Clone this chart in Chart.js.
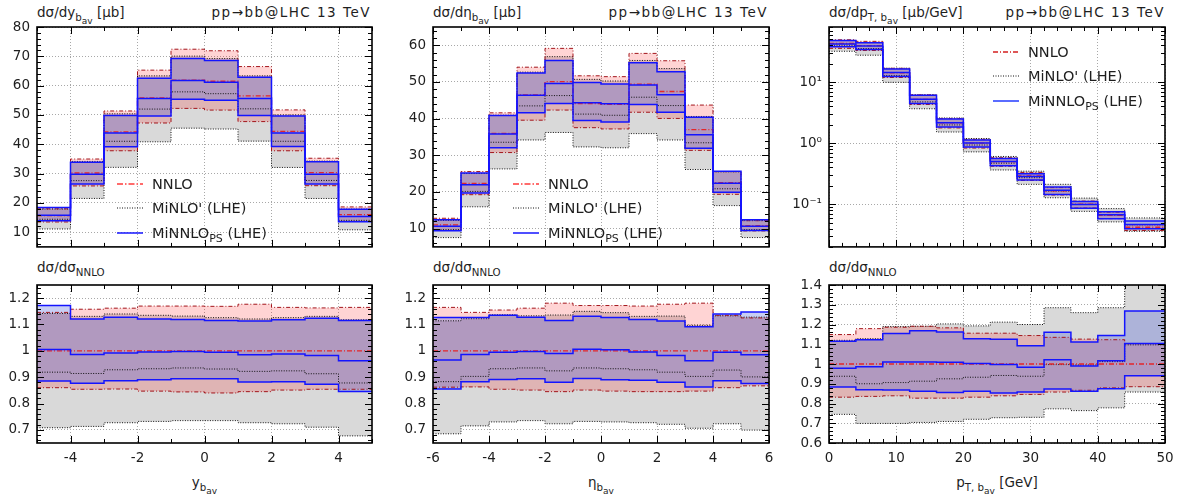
<!DOCTYPE html>
<html>
<head>
<meta charset="utf-8">
<script src="https://cdn.jsdelivr.net/npm/chart.js@4.4.1/dist/chart.umd.min.js"></script>
<style>
  body { margin: 0; width: 1186px; height: 500px; background: #fff; position: relative; overflow: hidden;
         font-family: "DejaVu Sans", sans-serif; color: #1e1e1e; }
  canvas { position: absolute; }
  .t { position: absolute; font-size: 13.5px; line-height: 15px; white-space: nowrap; }
  .t sub, .leg sub { font-size: 76%; vertical-align: -0.35em; line-height: 0; }
  .t sub sub { font-size: 88%; vertical-align: -0.3em; }
  .c { text-align: center; }
  .proc { letter-spacing: 1.5px; }
  .leg { position: absolute; font-size: 14.5px; white-space: nowrap; }
  .leg div { height: 24.5px; display: flex; align-items: center; }
  .leg svg { margin-right: 9px; flex: none; }
</style>
</head>
<body>

<div class="t" style="left:37px;top:5px">dσ/dy<sub>b<sub>av</sub></sub> [μb]</div>
<div class="t proc" style="right:815px;top:5px">pp→bb@LHC 13 TeV</div>
<div class="t" style="left:433px;top:5px">dσ/dη<sub>b<sub>av</sub></sub> [μb]</div>
<div class="t proc" style="right:418px;top:5px">pp→bb@LHC 13 TeV</div>
<div class="t" style="left:829px;top:5px">dσ/dp<sub>T, b<sub>av</sub></sub> [μb/GeV]</div>
<div class="t proc" style="right:21px;top:5px">pp→bb@LHC 13 TeV</div>

<div class="t" style="left:37px;top:260px">dσ/dσ<sub>NNLO</sub></div>
<div class="t" style="left:433px;top:260px">dσ/dσ<sub>NNLO</sub></div>
<div class="t" style="left:829px;top:260px">dσ/dσ<sub>NNLO</sub></div>

<div class="t c" style="left:37px;width:335px;top:475px">y<sub>b<sub>av</sub></sub></div>
<div class="t c" style="left:433px;width:336px;top:475px">η<sub>b<sub>av</sub></sub></div>
<div class="t c" style="left:829px;width:336px;top:475px">p<sub>T, b<sub>av</sub></sub> [GeV]</div>

<script>
// ---- rapidity y_bav (bins of 1, -5..5) ----
const yEdges = [-5, -4, -3, -2, -1, 0, 1, 2, 3, 4, 5];
const yNnlo = [15.7, 30.2, 44.2, 55.8, 61.9, 61.5, 56.5, 44.4, 30.3, 16.0];
// ratios to NNLO central
const yNnloLo = [0.860, 0.854, 0.855, 0.847, 0.844, 0.840, 0.845, 0.851, 0.854, 0.854];
const yNnloHi = [1.146, 1.158, 1.162, 1.170, 1.170, 1.169, 1.177, 1.165, 1.163, 1.165];
const yMinlo = [0.919, 0.914, 0.928, 0.932, 0.935, 0.931, 0.922, 0.924, 0.913, 0.878];
const yMinloLo = [0.708, 0.713, 0.727, 0.732, 0.735, 0.735, 0.727, 0.723, 0.710, 0.677];
const yMinloHi = [1.142, 1.131, 1.140, 1.135, 1.132, 1.126, 1.121, 1.126, 1.131, 1.118];
const yMinnlo = [1.005, 0.986, 0.992, 0.996, 0.997, 0.995, 0.985, 0.988, 0.982, 0.962];
const yMinnloLo = [0.885, 0.877, 0.886, 0.890, 0.894, 0.894, 0.882, 0.883, 0.873, 0.846];
const yMinnloHi = [1.172, 1.121, 1.128, 1.121, 1.119, 1.115, 1.113, 1.118, 1.124, 1.115];

// ---- pseudorapidity eta_bav (bins of 1, -6..6) ----
const etaEdges = [-6, -5, -4, -3, -2, -1, 0, 1, 2, 3, 4, 5, 6];
const etaNnlo = [11.0, 22.3, 36.0, 46.5, 50.1, 44.1, 43.9, 49.4, 47.4, 37.0, 22.5, 10.8];
const etaNnloLo = [0.862, 0.863, 0.854, 0.851, 0.845, 0.851, 0.847, 0.845, 0.845, 0.847, 0.860, 0.867];
const etaNnloHi = [1.165, 1.146, 1.155, 1.162, 1.181, 1.172, 1.172, 1.170, 1.177, 1.181, 1.135, 1.125];
const etaMinlo = [0.883, 0.903, 0.932, 0.935, 0.924, 0.935, 0.932, 0.928, 0.919, 0.903, 0.927, 0.901];
const etaMinloLo = [0.685, 0.715, 0.730, 0.735, 0.723, 0.732, 0.730, 0.727, 0.721, 0.706, 0.723, 0.699];
const etaMinloHi = [1.114, 1.122, 1.137, 1.133, 1.136, 1.150, 1.145, 1.131, 1.132, 1.097, 1.133, 1.128];
const etaMinnlo = [0.965, 0.986, 0.995, 0.997, 0.990, 1.006, 1.004, 0.996, 0.982, 0.962, 0.995, 0.985];
const etaMinnloLo = [0.855, 0.883, 0.891, 0.894, 0.881, 0.895, 0.890, 0.888, 0.881, 0.863, 0.886, 0.876];
const etaMinnloHi = [1.127, 1.127, 1.135, 1.128, 1.115, 1.131, 1.127, 1.119, 1.113, 1.091, 1.140, 1.147];

// ---- transverse momentum pT,bav [GeV] ----
const ptEdges = [0, 4, 8, 12, 16, 20, 24, 28, 32, 36, 40, 44, 50];
const ptNnlo = [43, 39.5, 14.2, 5.2, 2.15, 1.0, 0.5, 0.29, 0.165, 0.1, 0.066, 0.042];
const ptNnloLo = [0.832, 0.836, 0.839, 0.827, 0.827, 0.832, 0.839, 0.846, 0.858, 0.867, 0.879, 0.885];
const ptNnloHi = [1.149, 1.179, 1.186, 1.191, 1.183, 1.156, 1.156, 1.144, 1.135, 1.126, 1.123, 1.103];
const ptMinlo = [0.938, 0.900, 0.906, 0.913, 0.925, 0.933, 0.942, 0.938, 0.997, 0.995, 1.012, 1.097];
const ptMinloLo = [0.745, 0.699, 0.699, 0.704, 0.709, 0.720, 0.728, 0.730, 0.773, 0.764, 0.778, 0.858];
const ptMinloHi = [1.120, 1.128, 1.190, 1.191, 1.203, 1.193, 1.212, 1.200, 1.285, 1.260, 1.285, 1.420];
const ptMinnlo = [0.979, 0.986, 1.010, 1.010, 1.009, 1.003, 0.998, 0.983, 1.022, 0.990, 1.017, 1.104];
const ptMinnloLo = [0.884, 0.870, 0.868, 0.862, 0.856, 0.862, 0.853, 0.858, 0.874, 0.862, 0.875, 0.940];
const ptMinnloHi = [1.115, 1.123, 1.154, 1.168, 1.162, 1.128, 1.125, 1.092, 1.161, 1.111, 1.144, 1.268];

// tick labels
const yTicks = [-4, -2, 0, 2, 4];
const etaTicks = [-6, -4, -2, 0, 2, 4, 6];
const ptTicks = [0, 10, 20, 30, 40, 50];
const yTopTicks = [10, 20, 30, 40, 50, 60, 70, 80];
const etaTopTicks = [10, 20, 30, 40, 50, 60];
const ptTopTicks = [0.1, 1, 10];
const ptTopLabels = ['10⁻¹', '10⁰', '10¹'];
const ratioTicks = [0.7, 0.8, 0.9, 1, 1.1, 1.2];
const ptRatioTicks = [0.6, 0.7, 0.8, 0.9, 1, 1.1, 1.2, 1.3, 1.4];

const FONT = '"DejaVu Sans", sans-serif';
const RED = { borderColor: '#e3262a', borderWidth: 1.3, borderDash: [5, 2, 1, 2] };
const RED_EDGE = { borderColor: '#a3151b', borderWidth: 1, borderDash: [4, 2, 1, 2] };
const BLACK = { borderColor: '#111', borderWidth: 1, borderDash: [1, 1.5] };
const BLUE = { borderColor: '#1414ff', borderWidth: 1.5 };
const GRAY_FILL = '#d9d9d9';
const RED_FILL = 'rgba(255,0,0,0.17)';
const BLUE_FILL = 'rgba(74,92,219,0.3)';

// histogram steps: each value holds from its left edge to the next edge
function steps(edges, vals) {
  const pts = vals.map((v, i) => ({ x: edges[i], y: v }));
  pts.push({ x: edges[edges.length - 1], y: vals[vals.length - 1] });
  return pts;
}

function histSets(edges, base, s) {
  const pts = r => steps(edges, r.map((v, i) => v * base[i]));
  const ones = base.map(() => 1);
  const line = (data, style, fill) => Object.assign({ data: pts(data), stepped: 'before', fill: false,
    pointRadius: 0, borderCapStyle: 'butt' }, style, fill ? { fill: '-1', backgroundColor: fill } : {});
  // first dataset is drawn on top; fills go bottom-up from the last one
  return [
    line(s.pC, BLUE), line(s.pLo, BLUE), line(s.pHi, BLUE, BLUE_FILL),
    line(ones, RED), line(s.nLo, RED_EDGE), line(s.nHi, RED_EDGE, RED_FILL),
    line(s.mC, BLACK), line(s.mLo, BLACK), line(s.mHi, BLACK, GRAY_FILL)
  ];
}

// frame with inward major / minor ticks on all four sides
const framePlugin = {
  id: 'frame',
  afterDraw(chart, args, o) {
    const { ctx, chartArea: a, scales: { x, y } } = chart;
    ctx.save();
    ctx.strokeStyle = '#000';
    ctx.lineWidth = 1;
    ctx.beginPath();
    const vTick = (v, len) => {
      const px = Math.round(x.getPixelForValue(v)) + 0.5;
      ctx.moveTo(px, a.bottom); ctx.lineTo(px, a.bottom - len);
      ctx.moveTo(px, a.top); ctx.lineTo(px, a.top + len);
    };
    const hTick = (v, len) => {
      const py = Math.round(y.getPixelForValue(v)) + 0.5;
      ctx.moveTo(a.left, py); ctx.lineTo(a.left + len, py);
      ctx.moveTo(a.right, py); ctx.lineTo(a.right - len, py);
    };
    for (let k = Math.ceil(x.min / o.xMinor - 1e-9); k * o.xMinor <= x.max + 1e-9; k++) vTick(k * o.xMinor, 4);
    x.ticks.forEach(t => vTick(t.value, 7));
    if (o.yLog) {
      for (let e = Math.floor(Math.log10(y.min)); e <= Math.ceil(Math.log10(y.max)); e++) {
        for (let m = 2; m <= 9; m++) {
          const v = m * Math.pow(10, e);
          if (v >= y.min && v <= y.max) hTick(v, 4);
        }
      }
    } else {
      for (let k = Math.ceil(y.min / o.yMinor - 1e-9); k * o.yMinor <= y.max + 1e-9; k++) hTick(k * o.yMinor, 4);
    }
    y.ticks.forEach(t => hTick(t.value, 7));
    ctx.stroke();
    ctx.lineWidth = 1.6;
    ctx.strokeRect(a.left, a.top, a.right - a.left, a.bottom - a.top);
    ctx.restore();
  }
};

function histChart(cfg) {
  const [bl, bt, bw, bh] = cfg.box;
  const [pl, pt, pr, pb] = cfg.plot;
  const cv = document.createElement('canvas');
  cv.width = bw; cv.height = bh;
  cv.style.left = bl + 'px'; cv.style.top = bt + 'px';
  document.body.appendChild(cv);
  const tickFont = { family: FONT, size: 13.5 };
  return new Chart(cv, {
    type: 'line',
    data: { datasets: cfg.datasets },
    options: {
      responsive: false, animation: false, devicePixelRatio: 1,
      layout: { padding: { left: 0, top: pt - bt, right: bl + bw - pr, bottom: 0 } },
      plugins: {
        legend: { display: false }, tooltip: { enabled: false },
        filler: { drawTime: 'beforeDatasetsDraw' },
        frame: cfg.frame
      },
      scales: {
        x: {
          type: 'linear', min: cfg.xMin, max: cfg.xMax,
          afterBuildTicks: s => { s.ticks = cfg.xTicks.map(v => ({ value: v })); },
          afterFit: s => { s.height = bt + bh - pb; },
          ticks: { display: cfg.xLabels, padding: 7, color: '#1e1e1e', font: tickFont, maxRotation: 0, autoSkip: false,
                   callback: v => String(v) },
          grid: { color: '#a8a8a8', lineWidth: 1, drawTicks: false },
          border: { display: false, dash: [1, 2] }
        },
        y: {
          type: cfg.yLog ? 'logarithmic' : 'linear', min: cfg.yMin, max: cfg.yMax,
          afterBuildTicks: s => { s.ticks = cfg.yTicks.map(v => ({ value: v })); },
          afterFit: s => { s.width = pl - bl; },
          ticks: { padding: 7, color: '#1e1e1e', font: tickFont, autoSkip: false,
                   callback: cfg.yLabels ? (v => cfg.yLabels[cfg.yTicks.indexOf(v)]) : (v => String(v)) },
          grid: { color: '#a8a8a8', lineWidth: 1, drawTicks: false },
          border: { display: false, dash: [1, 2] }
        }
      }
    },
    plugins: [framePlugin]
  });
}

const cols = [
  { box: [0, 395], plot: [37, 372], edges: yEdges, nnlo: yNnlo, xMin: -5, xMax: 5, xTicks: yTicks, xMinor: 1,
    top: { yMin: 5, yMax: 80, yTicks: yTopTicks, yMinor: 2 },
    ratio: { yMin: 0.65, yMax: 1.25, yTicks: ratioTicks },
    s: { nLo: yNnloLo, nHi: yNnloHi, mC: yMinlo, mLo: yMinloLo, mHi: yMinloHi, pC: yMinnlo, pLo: yMinnloLo, pHi: yMinnloHi } },
  { box: [395, 395], plot: [433, 769], edges: etaEdges, nnlo: etaNnlo, xMin: -6, xMax: 6, xTicks: etaTicks, xMinor: 1,
    top: { yMin: 5, yMax: 65, yTicks: etaTopTicks, yMinor: 2 },
    ratio: { yMin: 0.65, yMax: 1.25, yTicks: ratioTicks },
    s: { nLo: etaNnloLo, nHi: etaNnloHi, mC: etaMinlo, mLo: etaMinloLo, mHi: etaMinloHi, pC: etaMinnlo, pLo: etaMinnloLo, pHi: etaMinnloHi } },
  { box: [790, 396], plot: [829, 1165], edges: ptEdges, nnlo: ptNnlo, xMin: 0, xMax: 50, xTicks: ptTicks, xMinor: 2,
    top: { yMin: 0.02, yMax: 80, yTicks: ptTopTicks, yLabels: ptTopLabels, yLog: true },
    ratio: { yMin: 0.6, yMax: 1.4, yTicks: ptRatioTicks },
    s: { nLo: ptNnloLo, nHi: ptNnloHi, mC: ptMinlo, mLo: ptMinloLo, mHi: ptMinloHi, pC: ptMinnlo, pLo: ptMinnloLo, pHi: ptMinnloHi } }
];

cols.forEach(c => {
  histChart({
    box: [c.box[0], 0, c.box[1], 262], plot: [c.plot[0], 27, c.plot[1], 259],
    datasets: histSets(c.edges, c.nnlo, c.s),
    xMin: c.xMin, xMax: c.xMax, xTicks: c.xTicks, xLabels: false,
    yMin: c.top.yMin, yMax: c.top.yMax, yTicks: c.top.yTicks, yLabels: c.top.yLabels, yLog: c.top.yLog,
    frame: { xMinor: c.xMinor, yMinor: c.top.yMinor, yLog: c.top.yLog }
  });
  histChart({
    box: [c.box[0], 262, c.box[1], 238], plot: [c.plot[0], 285, c.plot[1], 443],
    datasets: histSets(c.edges, c.nnlo.map(() => 1), c.s),
    xMin: c.xMin, xMax: c.xMax, xTicks: c.xTicks, xLabels: true,
    yMin: c.ratio.yMin, yMax: c.ratio.yMax, yTicks: c.ratio.yTicks,
    frame: { xMinor: c.xMinor, yMinor: 0.02 }
  });
});
</script>

<div class="leg" style="left:117px;top:171.5px">
  <div><svg width="26" height="4"><line x1="0" y1="2" x2="26" y2="2" stroke="#ff6b6b" stroke-width="2" stroke-dasharray="6,2,1.5,2"/></svg><span>NNLO</span></div>
  <div><svg width="26" height="4"><line x1="0" y1="2" x2="26" y2="2" stroke="#111" stroke-width="1" stroke-dasharray="1,1.5"/></svg><span>MiNLO' (LHE)</span></div>
  <div><svg width="26" height="4"><line x1="0" y1="2" x2="26" y2="2" stroke="#1414ff" stroke-width="1.5"/></svg><span>MiNNLO<sub>PS</sub> (LHE)</span></div>
</div>
<div class="leg" style="left:513px;top:171.5px">
  <div><svg width="26" height="4"><line x1="0" y1="2" x2="26" y2="2" stroke="#ff6b6b" stroke-width="2" stroke-dasharray="6,2,1.5,2"/></svg><span>NNLO</span></div>
  <div><svg width="26" height="4"><line x1="0" y1="2" x2="26" y2="2" stroke="#111" stroke-width="1" stroke-dasharray="1,1.5"/></svg><span>MiNLO' (LHE)</span></div>
  <div><svg width="26" height="4"><line x1="0" y1="2" x2="26" y2="2" stroke="#1414ff" stroke-width="1.5"/></svg><span>MiNNLO<sub>PS</sub> (LHE)</span></div>
</div>
<div class="leg" style="left:993px;top:39.5px">
  <div><svg width="26" height="4"><line x1="0" y1="2" x2="26" y2="2" stroke="#d42020" stroke-width="1.3" stroke-dasharray="5,2,1,2"/></svg><span>NNLO</span></div>
  <div><svg width="26" height="4"><line x1="0" y1="2" x2="26" y2="2" stroke="#111" stroke-width="1" stroke-dasharray="1,1.5"/></svg><span>MiNLO' (LHE)</span></div>
  <div><svg width="26" height="4"><line x1="0" y1="2" x2="26" y2="2" stroke="#5a6cff" stroke-width="2"/></svg><span>MiNNLO<sub>PS</sub> (LHE)</span></div>
</div>
</body>
</html>
